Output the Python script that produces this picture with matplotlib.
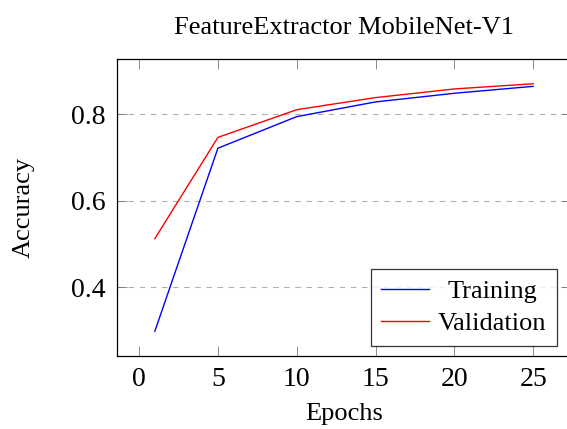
import matplotlib
matplotlib.use("Agg")
import matplotlib.pyplot as plt

epochs = [1, 5, 10, 15, 20, 25]
training = [0.298, 0.721, 0.794, 0.828, 0.848, 0.864]
validation = [0.512, 0.746, 0.810, 0.838, 0.858, 0.870]
xticks = [0, 5, 10, 15, 20, 25]
yticks = [0.4, 0.6, 0.8]

plt.rcParams['font.family'] = ['Liberation Serif', 'DejaVu Serif']

fig = plt.figure(figsize=(5.67, 4.29), dpi=100)
W, H = 567, 429
left, right, top, bottom = 117, 571, 59, 356
ax = fig.add_axes([left / W, 1 - bottom / H, (right - left) / W, (bottom - top) / H])

ax.plot(epochs, training, color='blue', lw=1.0, label='Training')
ax.plot(epochs, validation, color='red', lw=1.0, label='Validation')

ax.set_xlim(-1.4, 27.4)
ax.set_ylim(0.2408, 0.9272)
ax.set_xticks(xticks)
ax.set_yticks(yticks)
ax.set_yticklabels(['0.4', '0.6', '0.8'])
ax.tick_params(direction='in', top=True, right=True, length=7, width=0.6,
               labelsize=20, color='#777777', pad=8)
ax.yaxis.grid(True, linestyle=(0, (5, 5)), color='#b0b0b0', lw=0.8)
ax.set_axisbelow(True)
for s in ax.spines.values():
    s.set_linewidth(0.9)

ax.set_title('FeatureExtractor MobileNet-V1', fontsize=19, pad=18)
ax.set_xlabel('Epochs', fontsize=19, labelpad=8)
ax.set_ylabel('Accuracy', fontsize=19, labelpad=26)

leg = ax.legend(loc='lower right',
                bbox_to_anchor=((557 - left) / (right - left), (bottom - 346) / (bottom - top)),
                fontsize=19, frameon=True, fancybox=False, edgecolor='black',
                handlelength=1.8, borderpad=0.4, labelspacing=0.35,
                handletextpad=0.35, borderaxespad=0.0)
leg.get_frame().set_linewidth(0.9)

fig.canvas.draw()
texts = leg.get_texts()
widths = [t.get_window_extent().width for t in texts]
maxw = max(widths)
for t, w in zip(texts, widths):
    t.set_x((maxw - w) / 2)

fig.savefig('out.png', dpi=100)
